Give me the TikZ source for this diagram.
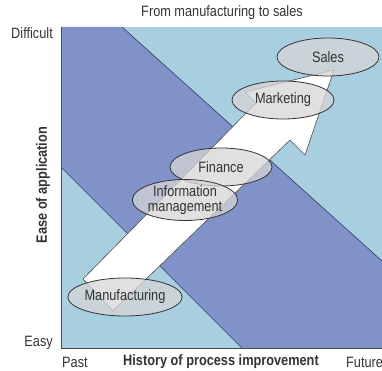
\documentclass[tikz,border=0pt]{standalone}
\usepackage{fontspec}
\setmainfont[FakeStretch=0.85]{Liberation Sans}
\usepackage{tikz}
\usetikzlibrary{shapes.geometric}
\definecolor{Light}{HTML}{A8CFE0}
\definecolor{Band}{HTML}{8092C8}
\definecolor{Edge}{HTML}{2E3A68}
\definecolor{Axis}{HTML}{4A4A4A}
\definecolor{Oval}{HTML}{D6D6D6}
\definecolor{Ink}{HTML}{333333}

\begin{document}
\begin{tikzpicture}[x=1pt,y=-1pt,
 lbl/.style={text=Ink,font=\fontsize{15}{15}\selectfont,inner sep=0pt},
 ax/.style={lbl,font=\fontsize{15}{15}\selectfont\bfseries},
 oval/.style={ellipse,draw=Ink,line width=0.8pt,fill=Oval,fill opacity=0.75,text opacity=1,
  minimum width=102pt,minimum height=38pt,inner sep=0pt,align=center,lbl}
]
\useasboundingbox (0,0) rectangle (382,371);
% plot area and diagonal band
\fill[Light] (61,27) rectangle (382,348);
\fill[Band] (61,27) -- (122,27) -- (382,261) -- (382,348) -- (242,348) -- (61,167) -- cycle;
\draw[Edge,line width=0.6pt] (122,27) -- (382,261);
\draw[Edge,line width=0.6pt] (61,167) -- (242,348);
\draw[Axis,line width=1pt] (61,27) -- (61,348) -- (382,348);
% big arrow
\draw[fill=white,draw=Axis,line width=0.6pt,line join=round]
 (83,279) -- (256,103) -- (245,92) -- (334,70) -- (305,155) -- (290,140) -- (113,311) -- cycle;
% stages
\node[oval] (manuf) at (125,297) {Manufacturing};
\node[oval] (finance) at (221,167) {Finance};
\node[oval] (info) at (185,200) {Information\\management};
\node[oval] (market) at (283,100) {Marketing};
\node[oval] (sales) at (328,57) {Sales};
% labels
\node[lbl] (title) at (222,13) {From manufacturing to sales};
\node[lbl,anchor=east] (hard) at (53,33) {Difficult};
\node[lbl,anchor=east] (easy) at (53,343) {Easy};
\node[ax,rotate=90] (ease) at (43,185) {Ease of application};
\node[lbl,anchor=west] (past) at (62,362) {Past};
\node[ax] (hist) at (221,362) {History of process improvement};
\node[lbl,anchor=west] (future) at (346,362) {Future};
\end{tikzpicture}
\end{document}
